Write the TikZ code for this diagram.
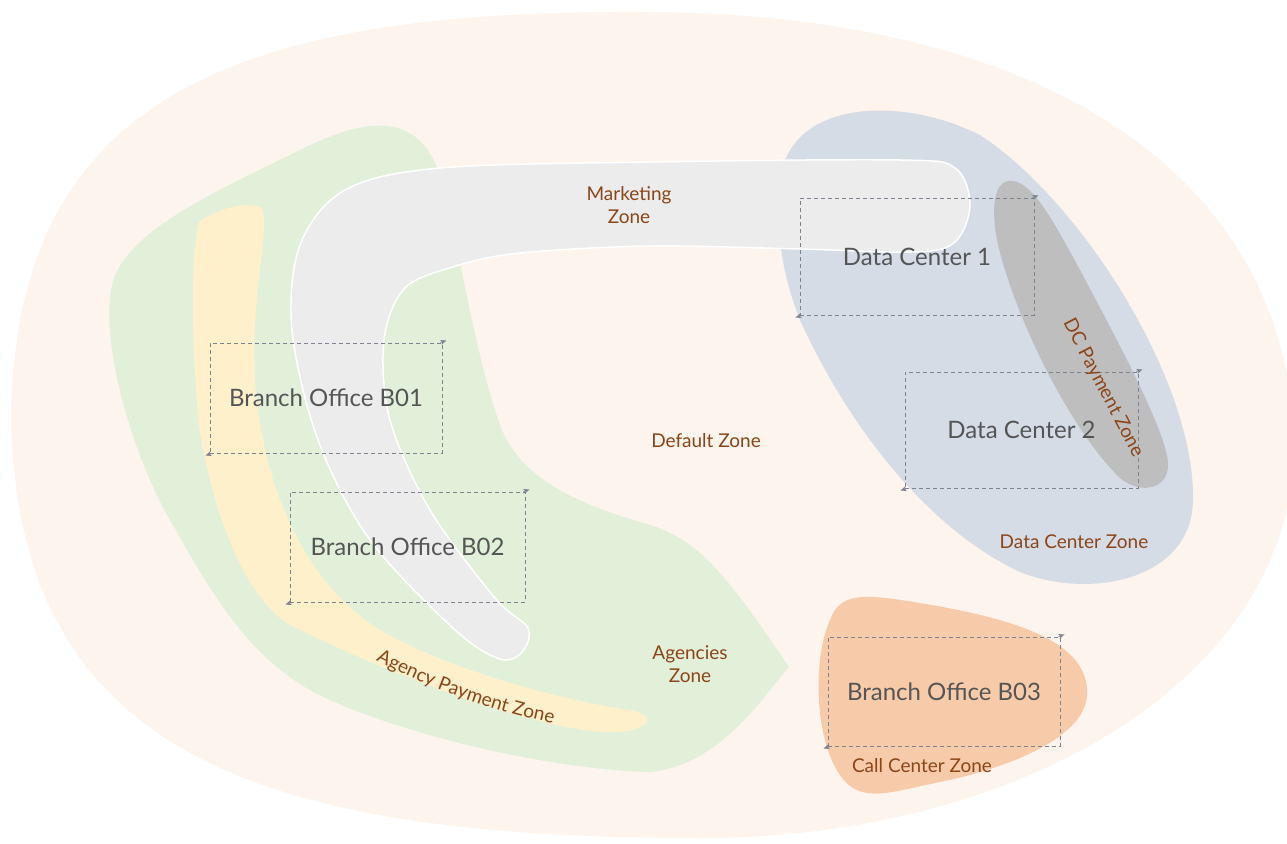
\documentclass[tikz,border=0pt]{standalone}
\usepackage{fontspec}
\setmainfont{Lato}
\usetikzlibrary{arrows.meta,decorations.text}
\definecolor{outerc}{HTML}{FDF4EE}
\definecolor{greenc}{HTML}{E2EFD9}
\definecolor{yellowc}{HTML}{FFF0CC}
\definecolor{greyc}{HTML}{ECECEC}
\definecolor{bluec}{HTML}{D5DCE6}
\definecolor{dgreyc}{HTML}{BEBEBE}
\definecolor{orangec}{HTML}{F7CBAA}
\definecolor{brownc}{HTML}{8B4518}
\definecolor{textc}{HTML}{555555}
\definecolor{dashc}{HTML}{80838F}
\tikzset{
  zonelabel/.style={text=brownc, font=\fontsize{19}{23}\selectfont, align=center, inner sep=0},
  officebox/.style={draw=dashc, dashed, line width=1pt, dash pattern=on 4pt off 3pt, text=textc,
     font=\fontsize{24}{26}\selectfont, inner sep=0, minimum width=#1},
  corner/.style={draw=dashc, line width=1pt, -{Stealth[length=6pt,width=5pt]}},
}
\begin{document}
\begin{tikzpicture}[x=1pt,y=-1pt]
\useasboundingbox (0,0) rectangle (1287,843);
\fill[white] (0,0) rectangle (1287,843);
% outer default zone
\fill[outerc] (11,420) .. controls (14,100) and (230,10) .. (640,12)
  .. controls (1050,12) and (1292,180) .. (1294,450)
  .. controls (1290,680) and (1020,838) .. (700,838)
  .. controls (250,838) and (19,750) .. (11,420) -- cycle;
% agencies zone
\fill[greenc] (300,150) .. controls (350,125) and (410,105) .. (436,165)
  .. controls (455,215) and (470,340) .. (500,425)
  .. controls (520,480) and (580,505) .. (650,525)
  .. controls (700,540) and (730,580) .. (789,667)
  .. controls (760,700) and (720,765) .. (650,772)
  .. controls (560,770) and (420,740) .. (330,700)
  .. controls (250,665) and (210,590) .. (170,520)
  .. controls (130,450) and (100,340) .. (112,285)
  .. controls (125,230) and (220,190) .. (300,150) -- cycle;
% agency payment zone
\fill[yellowc] (199,222) .. controls (215,210) and (245,200) .. (262,208)
  .. controls (270,230) and (250,300) .. (255,380)
  .. controls (262,480) and (300,580) .. (380,630)
  .. controls (450,670) and (560,700) .. (630,710)
  .. controls (660,715) and (650,735) .. (600,732)
  .. controls (520,725) and (380,670) .. (290,625)
  .. controls (240,595) and (210,500) .. (198,420)
  .. controls (192,340) and (190,260) .. (199,222) -- cycle;
% data center zone
\fill[bluec] (780,180) .. controls (790,100) and (900,95) .. (980,135)
  .. controls (1080,200) and (1195,380) .. (1193,500)
  .. controls (1192,580) and (1090,600) .. (1020,572)
  .. controls (930,530) and (850,430) .. (800,320)
  .. controls (780,270) and (775,220) .. (780,180) -- cycle;
% DC payment zone
\fill[dgreyc] (1008,181) .. controls (1030,178) and (1050,215) .. (1080,270)
  .. controls (1120,345) and (1165,430) .. (1168,462)
  .. controls (1170,490) and (1140,495) .. (1120,478)
  .. controls (1080,440) and (1030,350) .. (1005,270)
  .. controls (990,225) and (990,184) .. (1008,181) -- cycle;
% marketing zone
\filldraw[fill=greyc, draw=white, line width=1.5pt] plot[smooth cycle, tension=0.55] coordinates {
 (345,190) (440,168) (650,162) (900,160) (955,168) (970,205) (955,242) (915,252)
 (800,249) (650,246) (520,253) (456,266) (405,288) (384,340) (390,420) (430,510)
 (495,598) (528,628) (522,652) (500,659) (455,630) (370,540) (318,440) (292,330)
 (300,245)};
% call center zone
\fill[orangec] (830,620) .. controls (840,590) and (870,595) .. (920,603)
  .. controls (1010,618) and (1090,640) .. (1087,695)
  .. controls (1085,740) and (1000,770) .. (940,782)
  .. controls (890,792) and (860,805) .. (840,775)
  .. controls (815,740) and (812,660) .. (830,620) -- cycle;
% office boxes
\node[officebox=232pt, minimum height=110pt] (b01) at (326,398) {Branch Office B01};
\node[officebox=235pt, minimum height=110pt] (b02) at (407.5,547) {Branch Office B02};
\node[officebox=234pt, minimum height=117pt] (dc1) at (917,256.5) {Data Center 1};
\node[officebox=233pt, minimum height=116pt] (dc2) at (1021.5,430) {Data Center 2};
\node[officebox=232pt, minimum height=109pt] (b03) at (944,691.5) {Branch Office B03};
\foreach \n in {b01,b02,dc1,dc2,b03}{
  \draw[corner] ([xshift=-2pt]\n.north east) -- ([xshift=4pt,yshift=2pt]\n.north east);
  \draw[corner] ([xshift=2pt]\n.south west) -- ([xshift=-4pt,yshift=-2pt]\n.south west);
}
% zone labels
\node[zonelabel] (mkt) at (629,205) {Marketing\\Zone};
\node[zonelabel] (dflt) at (706,441) {Default Zone};
\node[zonelabel] (agz) at (690,664) {Agencies\\Zone};
\node[zonelabel] (dcz) at (1074,542) {Data Center Zone};
\node[zonelabel] (ccz) at (922,766) {Call Center Zone};
\node[zonelabel, rotate=-62.4] (dcp) at (1103,388) {DC Payment Zone};
\path[decorate, decoration={text along path, text align=center,
   text={|\fontsize{19}{21}\selectfont\color{brownc}|Agency Payment Zone}}]
   (356,650) .. controls (420,685) and (490,712) .. (575,728);
\end{tikzpicture}
\end{document}
